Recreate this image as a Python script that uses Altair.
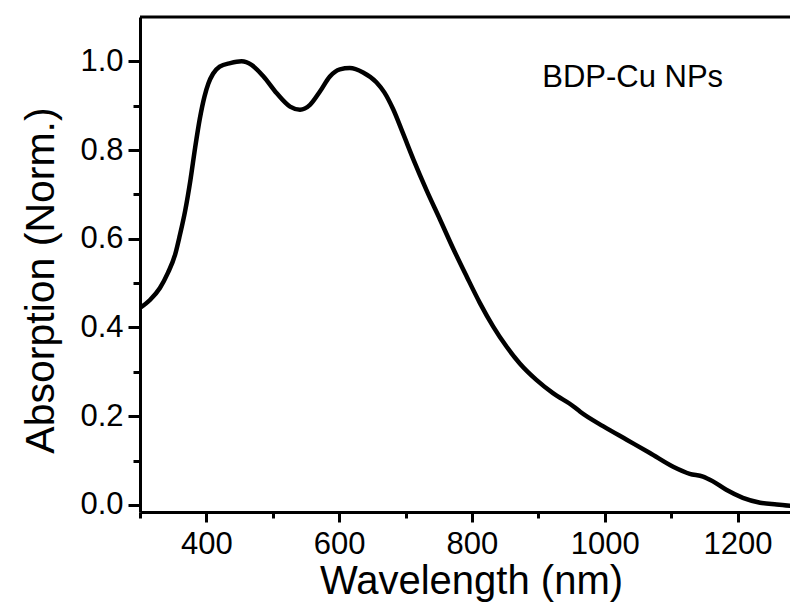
import altair as alt
import pandas as pd

wavelength = [300, 315, 330, 342, 353, 360, 368, 376, 383, 390, 397, 403, 410, 420, 436,
              453, 468, 486, 506, 526, 541, 556, 571, 586, 601, 616, 636, 656, 668,
              681, 696, 712, 732, 752, 772, 792, 812, 832, 852, 872, 897, 922, 953,
              963, 998, 1033, 1068, 1103, 1128, 1148, 1163, 1183, 1208, 1234, 1259, 1289]
absorption = [0.444, 0.462, 0.489, 0.523, 0.565, 0.608, 0.663, 0.733, 0.805, 0.870,
              0.920, 0.950, 0.972, 0.988, 0.996, 1.000, 0.992, 0.966, 0.928, 0.898,
              0.891, 0.902, 0.932, 0.966, 0.982, 0.985, 0.975, 0.953, 0.930,
              0.893, 0.838, 0.778, 0.708, 0.643, 0.577, 0.515, 0.455, 0.402, 0.357,
              0.319, 0.282, 0.252, 0.222, 0.210, 0.177, 0.147, 0.117, 0.086, 0.070,
              0.064, 0.053, 0.034, 0.016, 0.005, 0.001, -0.003]

x_ticks = [300, 400, 500, 600, 700, 800, 900, 1000, 1100, 1200]
y_ticks = [0.0, 0.1, 0.2, 0.3, 0.4, 0.5, 0.6, 0.7, 0.8, 0.9, 1.0]
x_domain = [300, 1279]
y_domain = [-0.016, 1.1]
label_text = ["BDP-Cu NPs"]
label_pos = [1042, 0.9425]

df = pd.DataFrame({"wl": wavelength, "abs": absorption})
W, H = 650, 495
FONT = "Liberation Sans"

x_enc = alt.X(
    "wl:Q",
    scale=alt.Scale(domain=x_domain, nice=False, zero=False),
    axis=alt.Axis(
        title="Wavelength (nm)",
        values=x_ticks,
        labelExpr="datum.value % 200 === 0 && datum.value > 300 ? datum.label : ''",
        format="d",
        grid=False,
        domainColor="black", domainWidth=3,
        tickColor="black", tickWidth=3,
        tickSize={"condition": {"test": "datum.value % 200 === 0", "value": 10}, "value": 6},
        labelPadding=7,
        labelFont=FONT, labelFontSize=31, labelColor="black",
        titleFont=FONT, titleFontSize=40, titleFontWeight="normal", titleColor="black",
        titleBaseline="alphabetic", titleY=81, titleX=331,
    ),
)
y_enc = alt.Y(
    "abs:Q",
    scale=alt.Scale(domain=y_domain, nice=False, zero=False),
    axis=alt.Axis(
        title="Absorption (Norm.)",
        values=y_ticks,
        labelExpr="round(datum.value * 10) % 2 === 0 ? format(datum.value, '.1f') : ''",
        grid=False,
        domainColor="black", domainWidth=3,
        tickColor="black", tickWidth=3,
        tickSize={"condition": {"test": "round(datum.value * 10) % 2 === 0", "value": 12}, "value": 7},
        labelPadding=5,
        labelFont=FONT, labelFontSize=31, labelColor="black",
        titleFont=FONT, titleFontSize=41, titleFontWeight="normal", titleColor="black",
        titleBaseline="alphabetic", titleAngle=270, titleX=-87, titleY=263,
    ),
)

line = alt.Chart(df).mark_line(
    color="black", strokeWidth=4.5, interpolate="monotone", clip=True
).encode(x=x_enc, y=y_enc)

top_frame = alt.Chart(pd.DataFrame({"a": [0]})).mark_rule(
    color="black", strokeWidth=3
).encode(
    x=alt.datum(x_domain[0]), x2=alt.datum(x_domain[1]), y=alt.datum(y_domain[1])
)

label = alt.Chart(pd.DataFrame({"t": label_text, "x": [label_pos[0]], "y": [label_pos[1]]})).mark_text(
    font=FONT, fontSize=31, color="black", align="center", baseline="alphabetic"
).encode(
    x=alt.X("x:Q"), y=alt.Y("y:Q"), text="t:N"
)

chart = alt.layer(line, top_frame, label).properties(
    width=W, height=H,
    autosize=alt.AutoSizeParams(type="none"),
    padding={"left": 132, "top": 9, "right": 0, "bottom": 90},
).configure_view(stroke=None).configure(background="white")

chart.save("out.html", embed_options={"renderer": "svg", "actions": False})
